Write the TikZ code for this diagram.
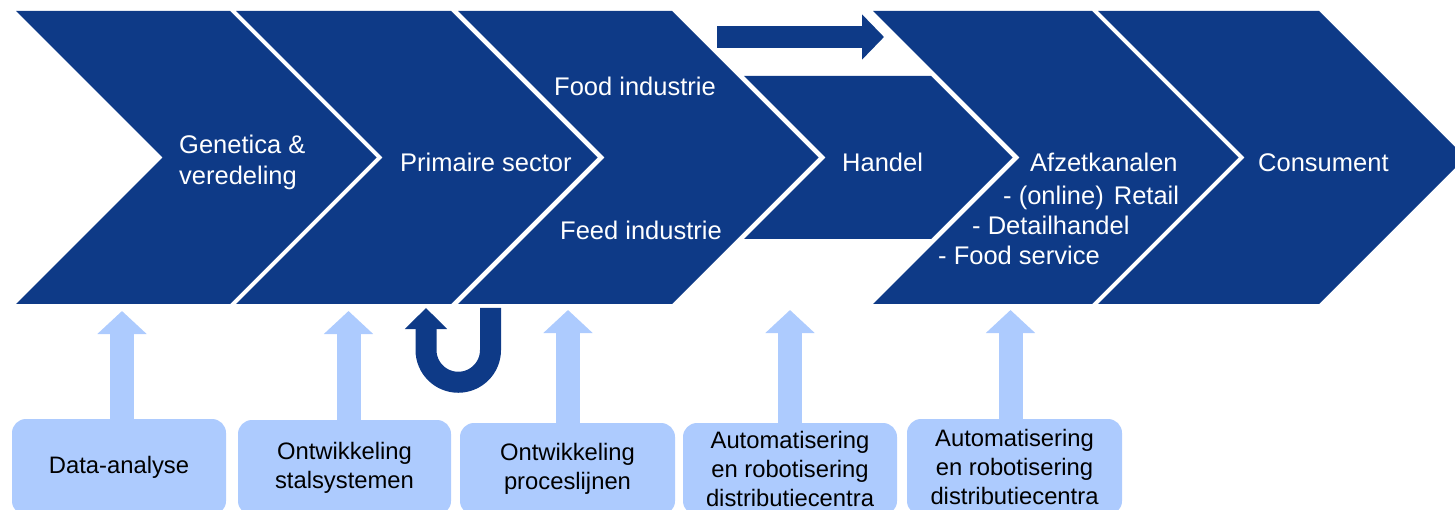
\documentclass[tikz,border=0pt]{standalone}
\usepackage{fontspec}
\setmainfont{Liberation Sans}
\usetikzlibrary{arrows.meta}
\definecolor{dblue}{RGB}{14,58,135}
\definecolor{lblue}{RGB}{173,203,254}
\begin{document}
\begin{tikzpicture}[x=1pt,y=-1pt,
  chev/.style={fill=dblue},
  wlabel/.style={text=white,font=\fontsize{25.5}{30.5}\selectfont,inner sep=0pt},
  box/.style={fill=lblue,rounded corners=14pt,minimum width=214pt,minimum height=96pt,align=center,font=\fontsize{23.8}{28.7}\selectfont,inner sep=0pt},
  uparrow/.style={draw=lblue,line width=24pt,-{Triangle[width=48pt,length=23pt]}},
  darrow/.style={draw=dblue,line width=22pt,-{Triangle[width=44pt,length=22pt]}},
  uturn/.style={draw=dblue,line width=21pt,-{Triangle[width=41pt,length=21pt]}}]
\useasboundingbox (0,0) rectangle (1455,510);
\clip (0,0) rectangle (1455,510);
% chevrons
\fill[chev] (16,11) -- (230,11) -- (376.5,157.5) -- (230,304) -- (16,304) -- (162.5,157.5) -- cycle;
\fill[chev] (236,11) -- (451,11) -- (597.5,157.5) -- (451,304) -- (236,304) -- (382.5,157.5) -- cycle;
\fill[chev] (458,11) -- (672,11) -- (818.5,157.5) -- (672,304) -- (458,304) -- (604.5,157.5) -- cycle;
\fill[chev] (744,76) -- (931,76) -- (1012.5,157.5) -- (931,239) -- (744,239) -- (825.5,157.5) -- cycle;
\fill[chev] (873,11) -- (1092,11) -- (1238.5,157.5) -- (1092,304) -- (873,304) -- (1019.5,157.5) -- cycle;
\fill[chev] (1098,11) -- (1319,11) -- (1465.5,157.5) -- (1319,304) -- (1098,304) -- (1244.5,157.5) -- cycle;
% chevron labels
\node[wlabel,anchor=west,align=left] (gen) at (179,162.5) {Genetica \&\\veredeling};
\node[wlabel,anchor=base west] (prim) at (400,172) {Primaire sector};
\node[wlabel,anchor=base west] (food) at (554,96) {Food industrie};
\node[wlabel,anchor=base west] (feed) at (560,240) {Feed industrie};
\node[wlabel,anchor=base west] (handel) at (842,172) {Handel};
\node[wlabel,anchor=base west] (afzet) at (1030,172) {Afzetkanalen};
\node[wlabel,anchor=base west] (retail) at (1003,205) {- (online)\hspace{3pt} Retail};
\node[wlabel,anchor=base west] (detail) at (972,235) {- Detailhandel};
\node[wlabel,anchor=base west] (fserv) at (938,265) {- Food service};
\node[wlabel,anchor=base west] (cons) at (1258,172) {Consument};
% boxes (bottoms run past the lower edge)
\node[box] (b1) at (119,467) {Data-analyse};
\node[box,minimum width=213pt,minimum height=95pt] (b2) at (344.5,467.5) {Ontwikkeling\\stalsystemen};
\node[box,minimum width=215pt,minimum height=92pt] (b3) at (567.5,469) {Ontwikkeling\\proceslijnen};
\node[box,minimum height=92pt] (b4) at (790,469) {Automatisering\\en robotisering\\distributiecentra};
\node[box,minimum width=215pt] (b5) at (1014.5,467) {Automatisering\\en robotisering\\distributiecentra};
% arrow targets
\coordinate (t1) at (122,311);
\coordinate (t2) at (348.5,311);
\coordinate (t3) at (568,310);
\coordinate (t4) at (790,310);
\coordinate (t5) at (1010.5,310);
\draw[uparrow] (b1.north -| t1) -- (t1);
\draw[uparrow] (b2.north -| t2) -- (t2);
\draw[uparrow] (b3.north -| t3) -- (t3);
\draw[uparrow] (b4.north -| t4) -- (t4);
\draw[uparrow] (b5.north -| t5) -- (t5);
% bypass arrow
\coordinate (foodout) at (717,37);
\coordinate (afzetin) at (884,37);
\draw[darrow] (foodout) -- (afzetin);
% u-turn arrow
\coordinate (ustart) at (490.5,308);
\coordinate (uend) at (426,308);
\draw[uturn] (ustart) -- (490.5,350) arc[start angle=0,end angle=180,radius=32.25] -- (uend);
\end{tikzpicture}
\end{document}
